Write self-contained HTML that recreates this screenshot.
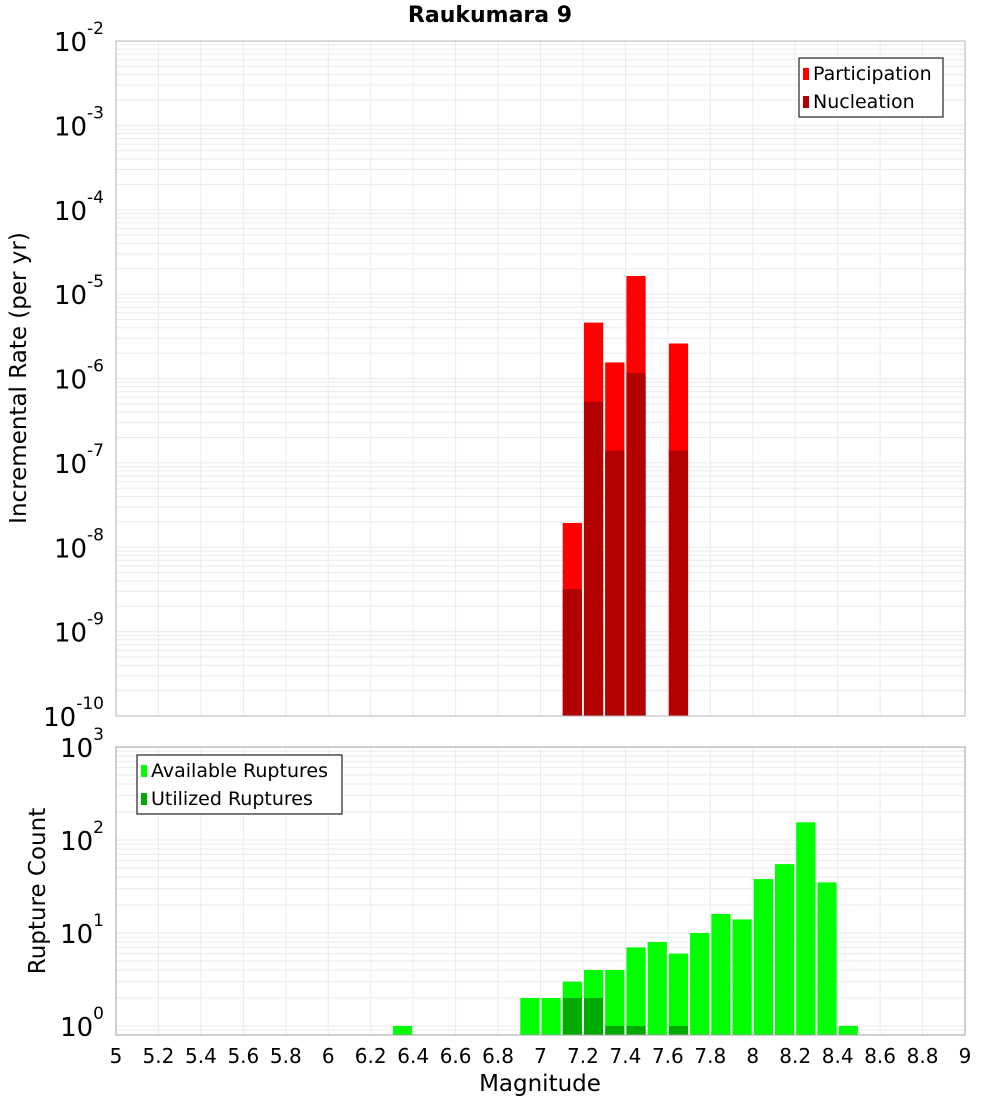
<!DOCTYPE html>
<html><head><meta charset="utf-8"><style>
body{margin:0;background:#fff;}
svg text{font-family:"DejaVu Sans","Liberation Sans",sans-serif;}
</style></head><body>
<svg id="c" width="1000" height="1100" xmlns="http://www.w3.org/2000/svg">
<text x="490" y="22" text-anchor="middle" font-size="22" font-weight="bold">Raukumara 9</text>
<g id="top"></g><g id="bot"></g>
<text transform="translate(26,378) rotate(-90)" text-anchor="middle" font-size="23">Incremental Rate (per yr)</text>
<text transform="translate(45,891) rotate(-90)" text-anchor="middle" font-size="23">Rupture Count</text>
<text x="540" y="1091" text-anchor="middle" font-size="23">Magnitude</text>
</svg>
<script>
const mags = [7.15, 7.25, 7.35, 7.45, 7.65];
const participation = [1.94e-8, 4.6e-6, 1.55e-6, 1.64e-5, 2.6e-6];
const nucleation = [3.2e-9, 5.3e-7, 1.4e-7, 1.17e-6, 1.4e-7];
const countMags = [6.35, 6.95, 7.05, 7.15, 7.25, 7.35, 7.45, 7.55, 7.65, 7.75, 7.85, 7.95, 8.05, 8.15, 8.25, 8.35, 8.45];
const available = [1, 2, 2, 3, 4, 4, 7, 8, 6, 10, 16, 14, 38, 55, 155, 35, 1];
const utilMags = [7.15, 7.25, 7.35, 7.45, 7.65];
const utilized = [2, 2, 1, 1, 1];
const xTicks = [5,5.2,5.4,5.6,5.8,6,6.2,6.4,6.6,6.8,7,7.2,7.4,7.6,7.8,8,8.2,8.4,8.6,8.8,9];
const topExps = [-2,-3,-4,-5,-6,-7,-8,-9,-10];
const botExps = [3,2,1,0];

const NS="http://www.w3.org/2000/svg";
const X0=116,X1=965;
const xs=m=>X0+(m-5)/4*(X1-X0);
function el(p,t,a){const e=document.createElementNS(NS,t);for(const k in a)e.setAttribute(k,a[k]);p.appendChild(e);return e;}
function txt(p,x,y,s,size,anchor){const e=el(p,'text',{x:x,y:y,'font-size':size,'text-anchor':anchor||'start'});e.textContent=s;return e;}

function panel(g,top,bot,lmin,lmax,exps,nameP){
  const ys=v=>bot-(Math.log10(v)-lmin)/(lmax-lmin)*(bot-top);
  const gr=el(g,'g',{});
  
  
  for(let d=Math.floor(lmin);d<Math.ceil(lmax);d++)for(let k=1;k<10;k++){
    const v=k*Math.pow(10,d);const lv=Math.log10(v);
    if(lv<lmin||lv>lmax)continue;const y=ys(v);
    el(gr,'line',{x1:X0,x2:X1,y1:y,y2:y,stroke:'#ebebeb','stroke-width':1});
  }
  xTicks.forEach(t=>{el(gr,'line',{x1:xs(t),x2:xs(t),y1:top,y2:bot,stroke:'#ebebeb','stroke-width':1});});
  exps.forEach(e=>{
    const y=ys(Math.pow(10,e));
    const t=el(g,'text',{x:104,y:y+10,'font-size':26,'text-anchor':'end'});
    
    
    const a=el(t,'tspan',{});a.textContent='10';
    const b=el(t,'tspan',{dy:-17,'font-size':17});b.textContent=String(e);
  });
  return ys;
}
const gt=document.getElementById('top'), gb=document.getElementById('bot');
const ysT=panel(gt,41,716,-10,-2,topExps,'top');
const bw=(X1-X0)/40;
mags.forEach((m,i)=>{
  const x=xs(m)-bw/2+1;
  const r=el(gt,'rect',{x:x,y:ysT(participation[i]),width:bw-2,height:716-ysT(participation[i]),fill:'#ff0000'});
  
  
  const n=el(gt,'rect',{x:x,y:ysT(nucleation[i]),width:bw-2,height:716-ysT(nucleation[i]),fill:'#b30000'});
  
  
});
el(gt,'rect',{x:X0,y:41,width:X1-X0,height:675,fill:'none',stroke:'#b4b4b4'});

const ysB=panel(gb,747,1035,-0.097,3,botExps,'bottom');
countMags.forEach((m,i)=>{
  const r=el(gb,'rect',{x:xs(m)-bw/2+1,y:ysB(available[i]),width:bw-2,height:1035-ysB(available[i]),fill:'#00ff00'});
  
  
});
utilMags.forEach((m,i)=>{
  const r=el(gb,'rect',{x:xs(m)-bw/2+1,y:ysB(utilized[i]),width:bw-2,height:1035-ysB(utilized[i]),fill:'#00aa00'});
  
  
});
el(gb,'rect',{x:X0,y:747,width:X1-X0,height:288,fill:'none',stroke:'#a0a0a0'});
xTicks.forEach(t=>{
  const e=txt(gb,xs(t),1063,String(t),20,'middle');
  
  
});

function legend(g,x,y,w,items,nm){
  const lg=el(g,'g',{});
  
  
  el(lg,'rect',{x:x,y:y,width:w,height:59,fill:'#fff',stroke:'#222','stroke-width':1.2});
  items.forEach((it,i)=>{
    el(lg,'rect',{x:x+4,y:y+10+i*28,width:6,height:12,fill:it[1]});
    txt(lg,x+14,y+22+i*28,it[0],19);
  });
}
legend(gt,799,58,144,[['Participation','#ff0000'],['Nucleation','#b30000']],'top-legend');
legend(gb,137,755,205,[['Available Ruptures','#00ff00'],['Utilized Ruptures','#00aa00']],'bottom-legend');
</script>
</body></html>
